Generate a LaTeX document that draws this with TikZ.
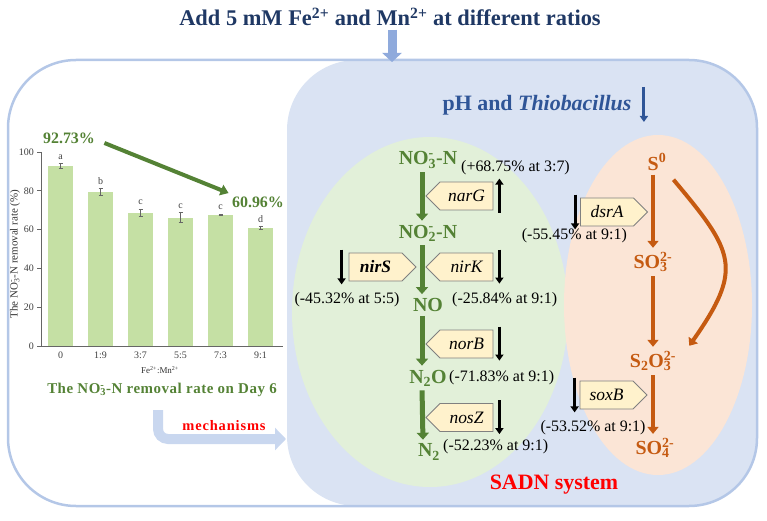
\documentclass[tikz,border=0pt]{standalone}
\usepackage{fontspec}
\setmainfont{Liberation Serif}
\usetikzlibrary{arrows.meta,shapes.symbols}

\definecolor{titleblue}{RGB}{31,56,100}
\definecolor{phblue}{RGB}{47,85,151}
\definecolor{inblue}{RGB}{143,170,220}
\definecolor{framecol}{RGB}{180,199,231}
\definecolor{panelfill}{RGB}{218,227,243}
\definecolor{nfill}{RGB}{226,240,217}
\definecolor{sfill}{RGB}{251,229,214}
\definecolor{ngreen}{RGB}{84,130,53}
\definecolor{sorange}{RGB}{197,90,17}
\definecolor{geneyel}{RGB}{255,242,204}
\definecolor{barfill}{RGB}{197,224,164}
\definecolor{mechblue}{RGB}{201,215,239}

\newcommand{\psize}[1]{\fontsize{#1}{#1}\selectfont}
% stacked sub- and superscript, as in NO3-
\newcommand{\subsup}[2]{\mbox{\setbox0\hbox{\textsubscript{#1}}\setbox2\hbox{\textsuperscript{#2}}%
	\ifdim\wd0>\wd2 \rlap{\box2}\box0\else\rlap{\box0}\box2\fi}}

\begin{document}
\begin{tikzpicture}[x=1bp, y=-1bp,
		species/.style={font=\bfseries\psize{20}, inner sep=1bp},
		nspec/.style={species, text=ngreen},
		sspec/.style={species, text=sorange},
		gene/.style={shape=signal, draw=black!50, fill=geneyel, line width=0.8bp, minimum width=67bp, minimum height=28bp, inner sep=0pt, font=\itshape\psize{17.5}},
		genew/.style={gene, signal to=west},
		genee/.style={gene, signal to=east},
		pct/.style={font=\psize{16}, inner sep=0pt},
		nflow/.style={ngreen, line width=5bp, shorten <=3bp, shorten >=3bp, -{Triangle[width=12bp,length=7bp]}},
		sflow/.style={sorange, line width=4bp, shorten <=3bp, shorten >=3bp, -{Triangle[width=11bp,length=7bp]}},
		chg/.style={line width=3bp, -{Triangle[width=8bp,length=6bp]}},
		ticklab/.style={font=\psize{10}, text=black!75, inner sep=1bp},
		axis/.style={black!60, line width=0.8bp}]
	\useasboundingbox (0,0) rectangle (767,521);
	% the SADN panel and the two pathways
	\fill[panelfill, rounded corners=70bp] (287,60) rectangle (757,506);
	\fill[nfill] (430,312) ellipse (138 and 175);
	\fill[sfill] (658,305) ellipse (94 and 170);
	\draw[framecol, line width=2.5bp, rounded corners=68bp] (8,60) rectangle (757,506);

	\node[font=\bfseries\psize{22.5}, text=titleblue] (title) at (390,17) {Add 5 mM Fe\textsuperscript{2+} and Mn\textsuperscript{2+} at different ratios};
	\coordinate (paneltop) at (392,62);
	\draw[inblue, line width=9bp, -{Triangle[width=19bp,length=9bp]}] (title.south -| paneltop) -- (paneltop);

	\node[font=\bfseries\psize{22}, text=phblue] (ph) at (537,105) {pH and \textit{Thiobacillus}};
	\draw[phblue, chg] ([shift={(9bp,18bp)}]ph.east) -- ([shift={(9bp,-17bp)}]ph.east);

	% the bar chart on day 6
	\draw[axis] (41,152) -- (41,346) -- (283,346);
	\foreach \v in {0,20,...,100}{
		\draw[axis] (37,{346-1.94*\v}) -- (41,{346-1.94*\v});
		\node[ticklab, anchor=east] at (35,{346-1.94*\v}) {\v};
	}
	\foreach \i/\val/\err/\grp/\ratio in {1/92.73/1.2/a/0, 2/79.4/2.0/b/1:9, 3/68.8/1.8/c/3:7, 4/66.2/2.5/c/5:5, 5/67.6/0.4/c/7:3, 6/60.96/0.8/d/9:1}{
		\pgfmathsetmacro\bx{20.5+40*\i}
		\fill[barfill] ({\bx-12.5},346) rectangle ({\bx+12.5},{346-1.94*\val});
		\draw[axis, line width=0.7bp] (\bx,{346-1.94*(\val-\err)}) -- (\bx,{346-1.94*(\val+\err)});
		\draw[axis, line width=0.7bp] ({\bx-2},{346-1.94*(\val-\err)}) -- ({\bx+2},{346-1.94*(\val-\err)});
		\draw[axis, line width=0.7bp] ({\bx-2},{346-1.94*(\val+\err)}) -- ({\bx+2},{346-1.94*(\val+\err)});
		\node[ticklab] at (\bx,{346-1.94*(\val+\err)-7}) {\grp};
		\node[ticklab] at (\bx,355) {\ratio};
	}
	\node[font=\psize{11}, text=black!80, rotate=90] (ylab) at (15,254) {The NO\subsup{3}{-}-N removal rate (\%)};
	\node[font=\psize{9}, text=black!80] (xlab) at (160,370) {Fe\textsuperscript{2+}:Mn\textsuperscript{2+}};
	\node[font=\bfseries\psize{16}, text=ngreen] (p1) at (69,138) {92.73\%};
	\node[font=\bfseries\psize{16}, text=ngreen] (p2) at (258,202) {60.96\%};
	\draw[ngreen, line width=4bp, -{Triangle[width=11bp,length=8bp]}] ([shift={(6bp,-5bp)}]p1.east) -- (p2.north west);
	\node[font=\bfseries\psize{15}, text=ngreen] (caption) at (162,390) {\addfontfeatures{LetterSpace=3.5}The NO\subsup{3}{-}-N removal rate on Day 6};

	% mechanisms, bent arrow into the panel
	\coordinate (mechstart) at (158,410);
	\coordinate (mechend) at (286,439);
	\draw[mechblue, line width=10bp, rounded corners=10bp, -{Triangle[width=22bp,length=11bp]}] (mechstart) |- (mechend);
	\node[font=\bfseries\psize{14.5}, text=red] (mech) at (224,426) {\addfontfeatures{LetterSpace=6}mechanisms};

	% denitrification
	\node[nspec] (no3) at (428,160) {NO\subsup{3}{-}-N};
	\node[nspec] (no2) at (428,233) {NO\subsup{2}{-}-N};
	\node[nspec] (no) at (428,305) {NO};
	\node[nspec] (n2o) at (428,378) {N\textsubscript{2}O};
	\node[nspec] (n2) at (429,452) {N\textsubscript{2}};
	\draw[nflow] ([xshift=-6bp]no3.south) -- ([xshift=-6bp]no2.north);
	\draw[nflow] ([xshift=-6bp]no2.south) -- ([xshift=-6bp]no.north);
	\draw[nflow] ([xshift=-6bp]no.south) -- ([xshift=-6bp]n2o.north);
	\draw[nflow] ([xshift=-6bp]n2o.south) -- ([xshift=-6bp]n2.north);

	\node[genew] (narG) at (466.5,196) {narG};
	\node[genew] (nirK) at (466.5,267) {nirK};
	\node[genee, font=\bfseries\itshape\psize{17.5}] (nirS) at (375.5,267) {nirS};
	\node[genew] (norB) at (466.5,344) {norB};
	\node[genew] (nosZ) at (466.5,417.5) {nosZ};
	\draw[chg] ([shift={(6bp,-3bp)}]narG.south east) -- ([shift={(6bp,3bp)}]narG.north east);
	\draw[chg] ([shift={(6bp,3bp)}]nirK.north east) -- ([shift={(6bp,-3bp)}]nirK.south east);
	\draw[chg] ([shift={(-7bp,3bp)}]nirS.north west) -- ([shift={(-7bp,-3bp)}]nirS.south west);
	\draw[chg] ([shift={(6bp,3bp)}]norB.north east) -- ([shift={(6bp,-3bp)}]norB.south east);
	\draw[chg] ([shift={(6bp,3bp)}]nosZ.north east) -- ([shift={(6bp,-3bp)}]nosZ.south east);

	\node[pct, anchor=west] (pnarG) at (461,168) {(+68.75\% at 3:7)};
	\node[pct, anchor=west] (pnirK) at (452,300) {(-25.84\% at 9:1)};
	\node[pct] (pnirS) at (347,300) {(-45.32\% at 5:5)};
	\node[pct, anchor=west] (pnorB) at (449,378) {(-71.83\% at 9:1)};
	\node[pct, anchor=west] (pnosZ) at (443,447) {(-52.23\% at 9:1)};

	% sulfur oxidation
	\node[sspec] (s0) at (657,162) {S\textsuperscript{0}};
	\node[sspec] (so3) at (653,262) {SO\subsup{3}{2-}};
	\node[sspec] (s2o3) at (653,361) {S\textsubscript{2}O\subsup{3}{2-}};
	\node[sspec] (so4) at (655,448) {SO\subsup{4}{2-}};
	\draw[sflow] (s0.south -| so3.north) -- (so3.north);
	\draw[sflow] (so3.south) -- (s2o3.north);
	\draw[sflow] (s2o3.south) -- (s2o3.south |- so4.north);
	\draw[sflow, shorten <=0bp, shorten >=0bp] ([shift={(6bp,-8bp)}]s0.south east) to[out=-50, in=55, looseness=1.45] ([shift={(12bp,4bp)}]s2o3.north east);

	\node[genee] (dsrA) at (607,212) {dsrA};
	\node[genee] (soxB) at (606.5,395) {soxB};
	\draw[chg] ([shift={(-5bp,3bp)}]dsrA.north west) -- ([shift={(-5bp,-3bp)}]dsrA.south west);
	\draw[chg] ([shift={(-5bp,3bp)}]soxB.north west) -- ([shift={(-5bp,-3bp)}]soxB.south west);
	\node[pct, anchor=east] (pdsrA) at (627,236) {(-55.45\% at 9:1)};
	\node[pct] (psoxB) at (593,428) {(-53.52\% at 9:1)};

	\node[font=\bfseries\psize{22}, text=red] (sadn) at (554,485) {SADN system};
\end{tikzpicture}
\end{document}
